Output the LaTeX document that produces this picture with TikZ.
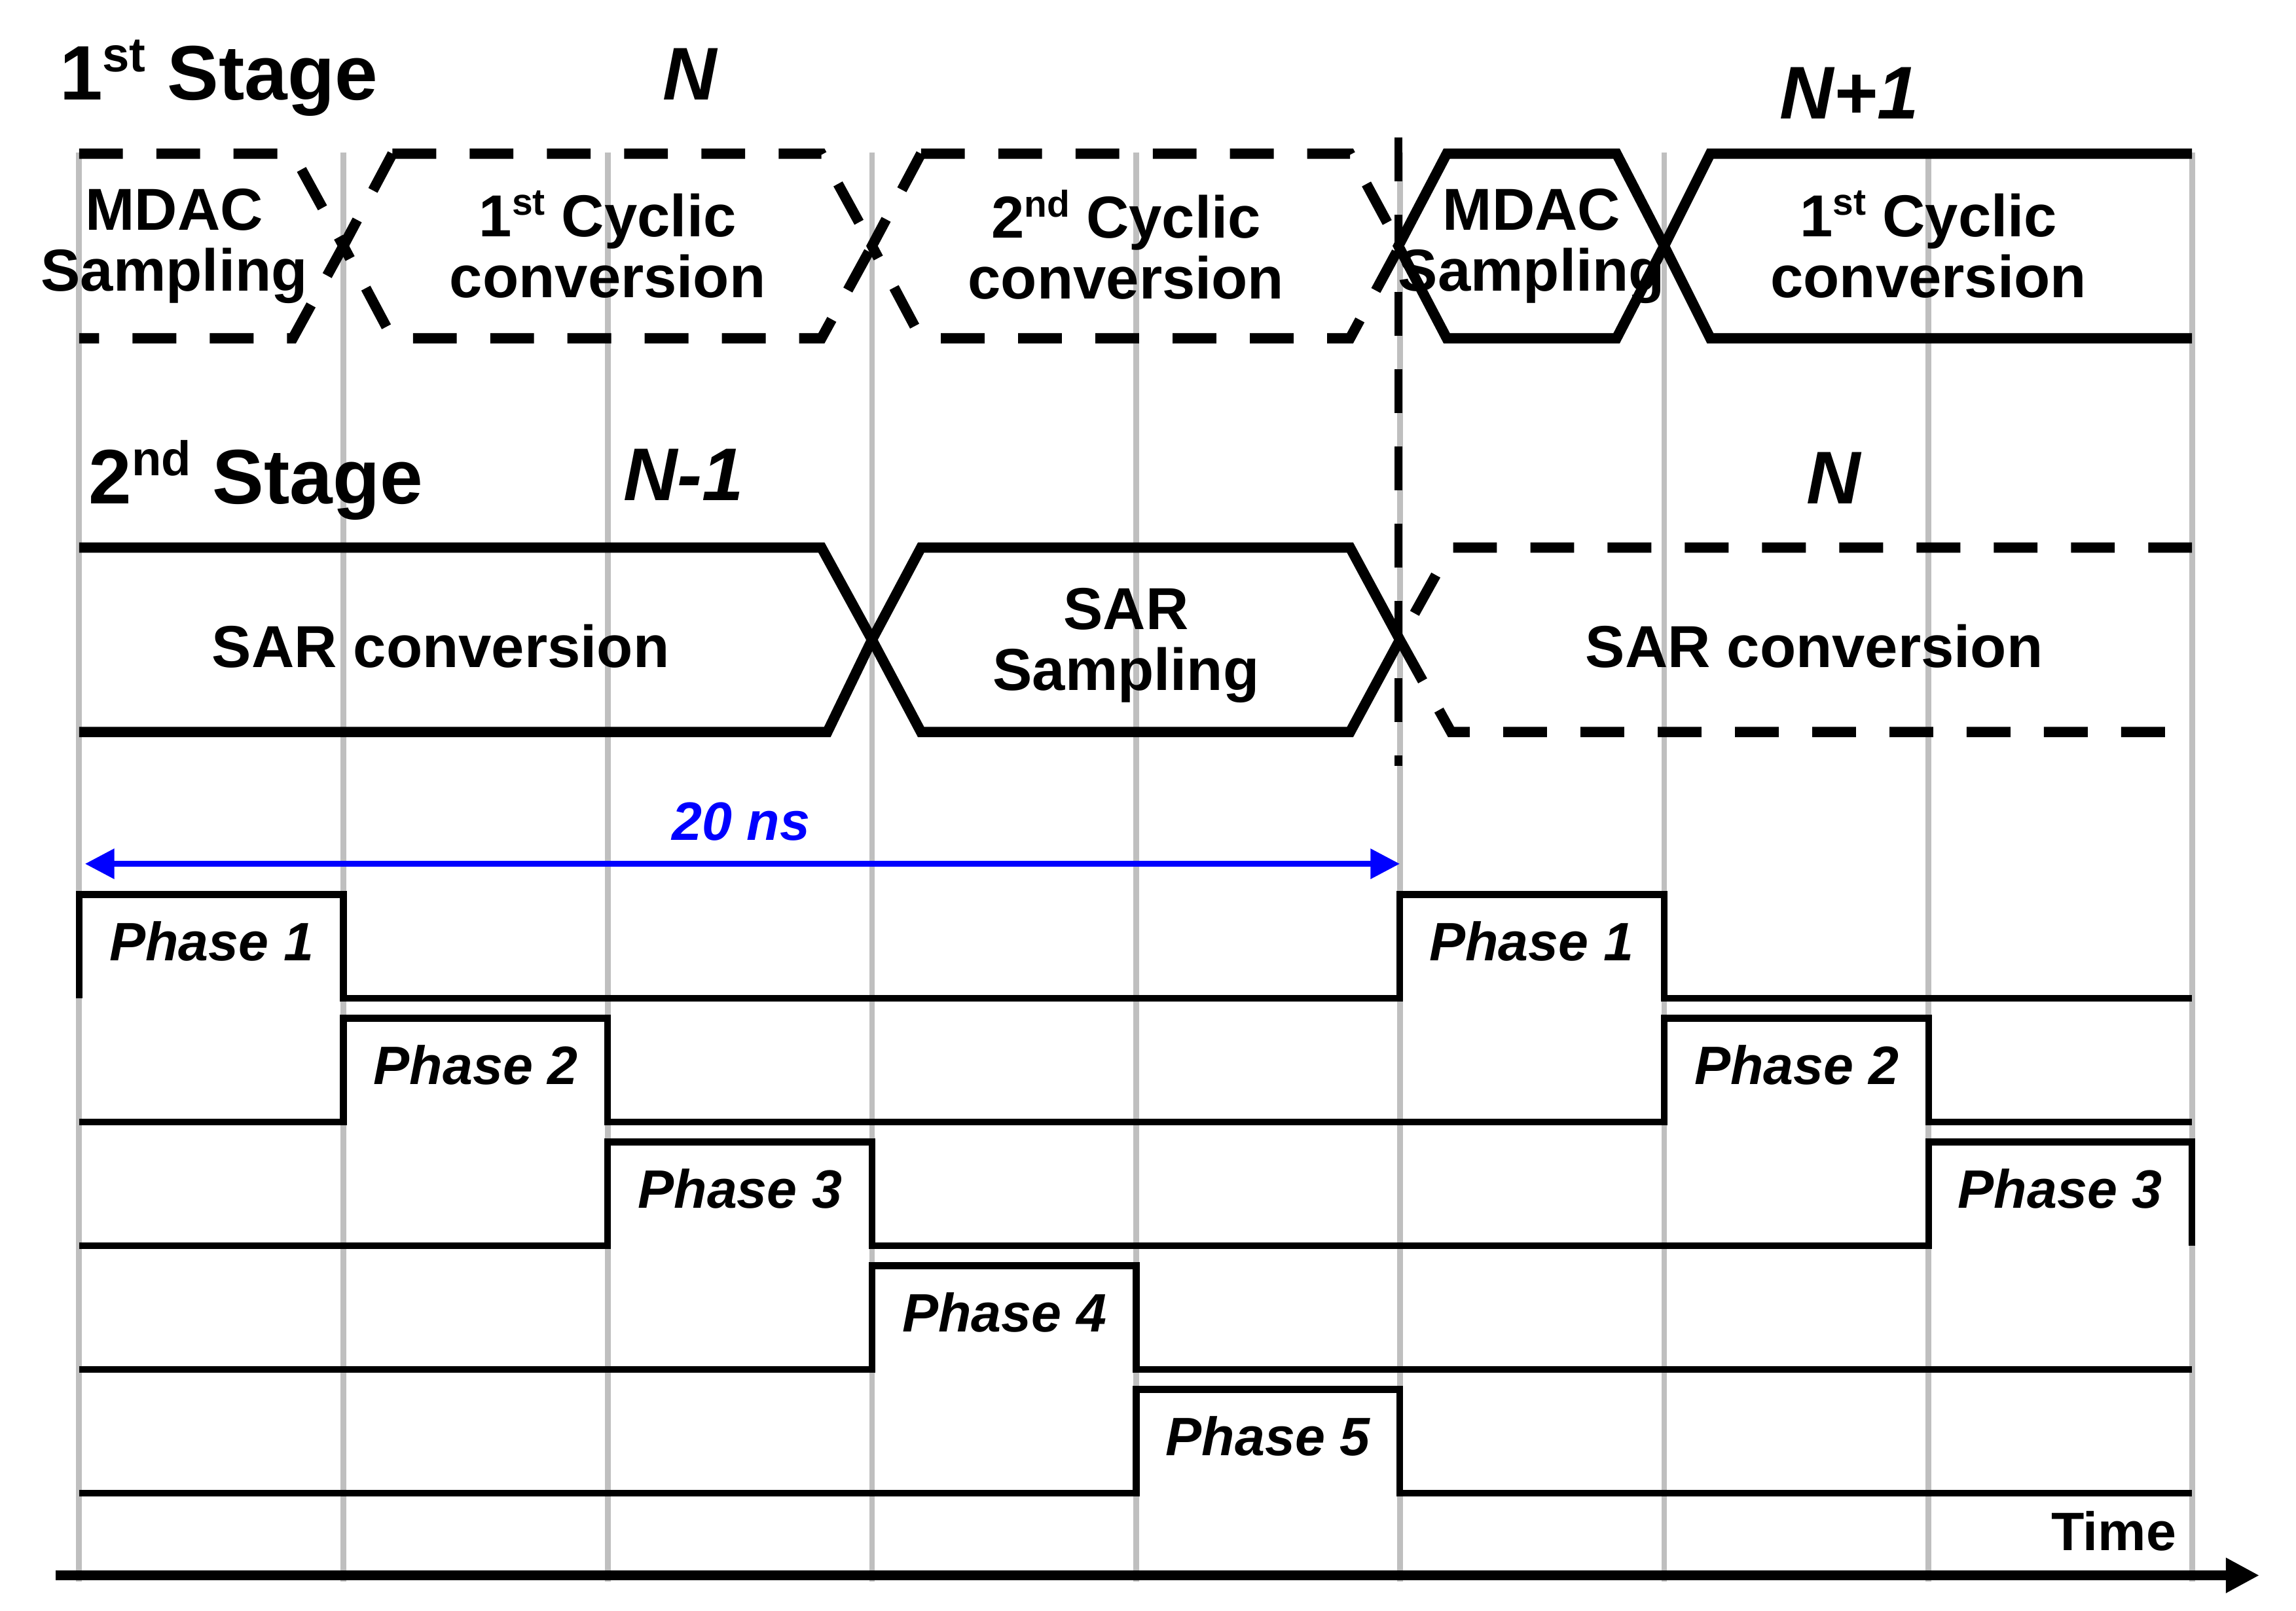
\documentclass[tikz,border=0pt]{standalone}
\usepackage{fontspec}
\usepackage{graphicx}
\setmainfont{Liberation Sans}
\usetikzlibrary{arrows.meta}

\definecolor{gridgray}{HTML}{BFBFBF}
\newcommand{\ordsup}[1]{\raisebox{0.36em}{\scalebox{0.63}{#1}}}

\begin{document}
\begin{tikzpicture}[x=0.01cm, y=-0.01cm]
      \tikzstyle{stagelbl} = [anchor=base west, inner sep=0pt, font=\fontsize{15}{15.5}\selectfont\bfseries]
      \tikzstyle{iterlbl} = [anchor=base, inner sep=0pt, font=\fontsize{14.5}{15}\selectfont\bfseries\itshape]
      \tikzstyle{boxtxt} = [align=center, inner sep=0pt, font=\fontsize{11.5}{11.8}\selectfont\bfseries]
      \tikzstyle{phaselbl} = [anchor=base, inner sep=0pt, font=\fontsize{10.5}{11}\selectfont\bfseries\itshape]
      \tikzstyle{solidwave} = [line width=2pt, line join=miter]
      \tikzstyle{dashwave} = [line width=2pt, line join=miter, dash pattern=on 8.5pt off 6.5pt]
      \tikzstyle{clk} = [line width=1.3pt, line join=miter]
      \tikzstyle{gridline} = [line width=1.1pt, gridgray]

      \useasboundingbox (0,0) rectangle (1568,1100);

      % time grid
      \draw [gridline] (54,104) -- (54,1080) (234.5,104) -- (234.5,1080) (415,104) -- (415,1080)
        (595.5,104) -- (595.5,1080) (776,104) -- (776,1080) (956,104) -- (956,1080)
        (1136.5,104) -- (1136.5,1080) (1317,104) -- (1317,1080) (1497,104) -- (1497,1080);

      % 1st stage
      \node (stageA) [stagelbl] at (40,68) {1\ordsup{st} Stage};
      \node (iterN) [iterlbl] at (471,68) {N};
      \node (iterNp) [iterlbl] at (1263,81) {N+1};

      \draw [dashwave] (54,105) -- (200,105) -- (234.5,168) -- (200,231) -- (54,231);
      \draw [dashwave] (268,105) -- (561,105) -- (595.5,168) -- (561,231) -- (268,231) -- (234.5,168) -- cycle;
      \draw [dashwave] (629,105) -- (922,105) -- (956,168) -- (922,231) -- (629,231) -- (595.5,168) -- cycle;
      \draw [solidwave] (988,105) -- (1104,105) -- (1136.5,168) -- (1104,231) -- (988,231) -- (955,168) -- cycle;
      \draw [solidwave] (1497,105) -- (1168,105) -- (1136.5,168) -- (1168,231) -- (1497,231);

      \node (mdacA) [boxtxt] at (119,168) {MDAC\\Sampling};
      \node (cycA) [boxtxt] at (415,167) {1\ordsup{st} Cyclic\\conversion};
      \node (cycB) [boxtxt] at (769,167) {2\ordsup{nd} Cyclic\\conversion};
      \node (mdacB) [boxtxt] at (1046,168) {MDAC\\Sampling};
      \node (cycC) [boxtxt] at (1317,167) {1\ordsup{st} Cyclic\\conversion};

      \draw [line width=1.6pt, dash pattern=on 8.5pt off 6.5pt] (955,94) -- (955,523);

      % 2nd stage
      \node (stageB) [stagelbl] at (60,344) {2\ordsup{nd} Stage};
      \node (iterNm) [iterlbl] at (467,342) {N-1};
      \node (iterNb) [iterlbl] at (1252,344) {N};

      \draw [solidwave] (54,374) -- (561,374) -- (595.5,437) -- (565,500) -- (54,500);
      \draw [solidwave] (629,374) -- (922,374) -- (956,437) -- (922,500) -- (629,500) -- (595.5,437) -- cycle;
      \draw [dashwave] (1497,374) -- (991,374) -- (956,437) -- (991,500) -- (1497,500);

      \node (sarA) [boxtxt, anchor=base] at (301,456) {SAR conversion};
      \node (sarS) [boxtxt] at (769,441) {SAR\\Sampling};
      \node (sarB) [boxtxt, anchor=base] at (1239,456) {SAR conversion};

      % period
      \coordinate (spanL) at (58,590);
      \coordinate (spanR) at (956,590);
      \draw [line width=1.2pt, blue, {Triangle[length=5.7pt,width=5.6pt]}-{Triangle[length=5.7pt,width=5.6pt]}] (spanL) -- (spanR);
      \node (period) [phaselbl, blue] at (506,574) {20 ns};

      % clock phases
      \draw [clk] (54,682) -- (54,611) -- (234.5,611) -- (234.5,682) -- (956,682) -- (956,611) -- (1136.5,611) -- (1136.5,682) -- (1497,682);
      \draw [clk] (54,766.5) -- (234.5,766.5) -- (234.5,695.5) -- (415,695.5) -- (415,766.5) -- (1136.5,766.5) -- (1136.5,695.5) -- (1317,695.5) -- (1317,766.5) -- (1497,766.5);
      \draw [clk] (54,851) -- (415,851) -- (415,780) -- (595.5,780) -- (595.5,851) -- (1317,851) -- (1317,780) -- (1497,780) -- (1497,851);
      \draw [clk] (54,935.5) -- (595.5,935.5) -- (595.5,864.5) -- (776,864.5) -- (776,935.5) -- (1497,935.5);
      \draw [clk] (54,1020) -- (776,1020) -- (776,949) -- (956,949) -- (956,1020) -- (1497,1020);

      \node (phA) [phaselbl] at (144.5,656) {Phase 1};
      \node (phB) [phaselbl] at (325,740.5) {Phase 2};
      \node (phC) [phaselbl] at (505.5,825) {Phase 3};
      \node (phD) [phaselbl] at (686,909.5) {Phase 4};
      \node (phE) [phaselbl] at (866,994) {Phase 5};
      \node (phF) [phaselbl] at (1046,656) {Phase 1};
      \node (phG) [phaselbl] at (1227,740.5) {Phase 2};
      \node (phH) [phaselbl] at (1407,825) {Phase 3};

      % time axis
      \coordinate (t0) at (38,1076);
      \coordinate (t1) at (1543,1076);
      \draw [line width=1.9pt, -{Triangle[length=6.5pt,width=6.4pt]}] (t0) -- (t1);
      \node (timelbl) [phaselbl, font=\fontsize{10.5}{11}\selectfont\bfseries, anchor=base east] at (1487,1059) {Time};
    \end{tikzpicture}
\end{document}
